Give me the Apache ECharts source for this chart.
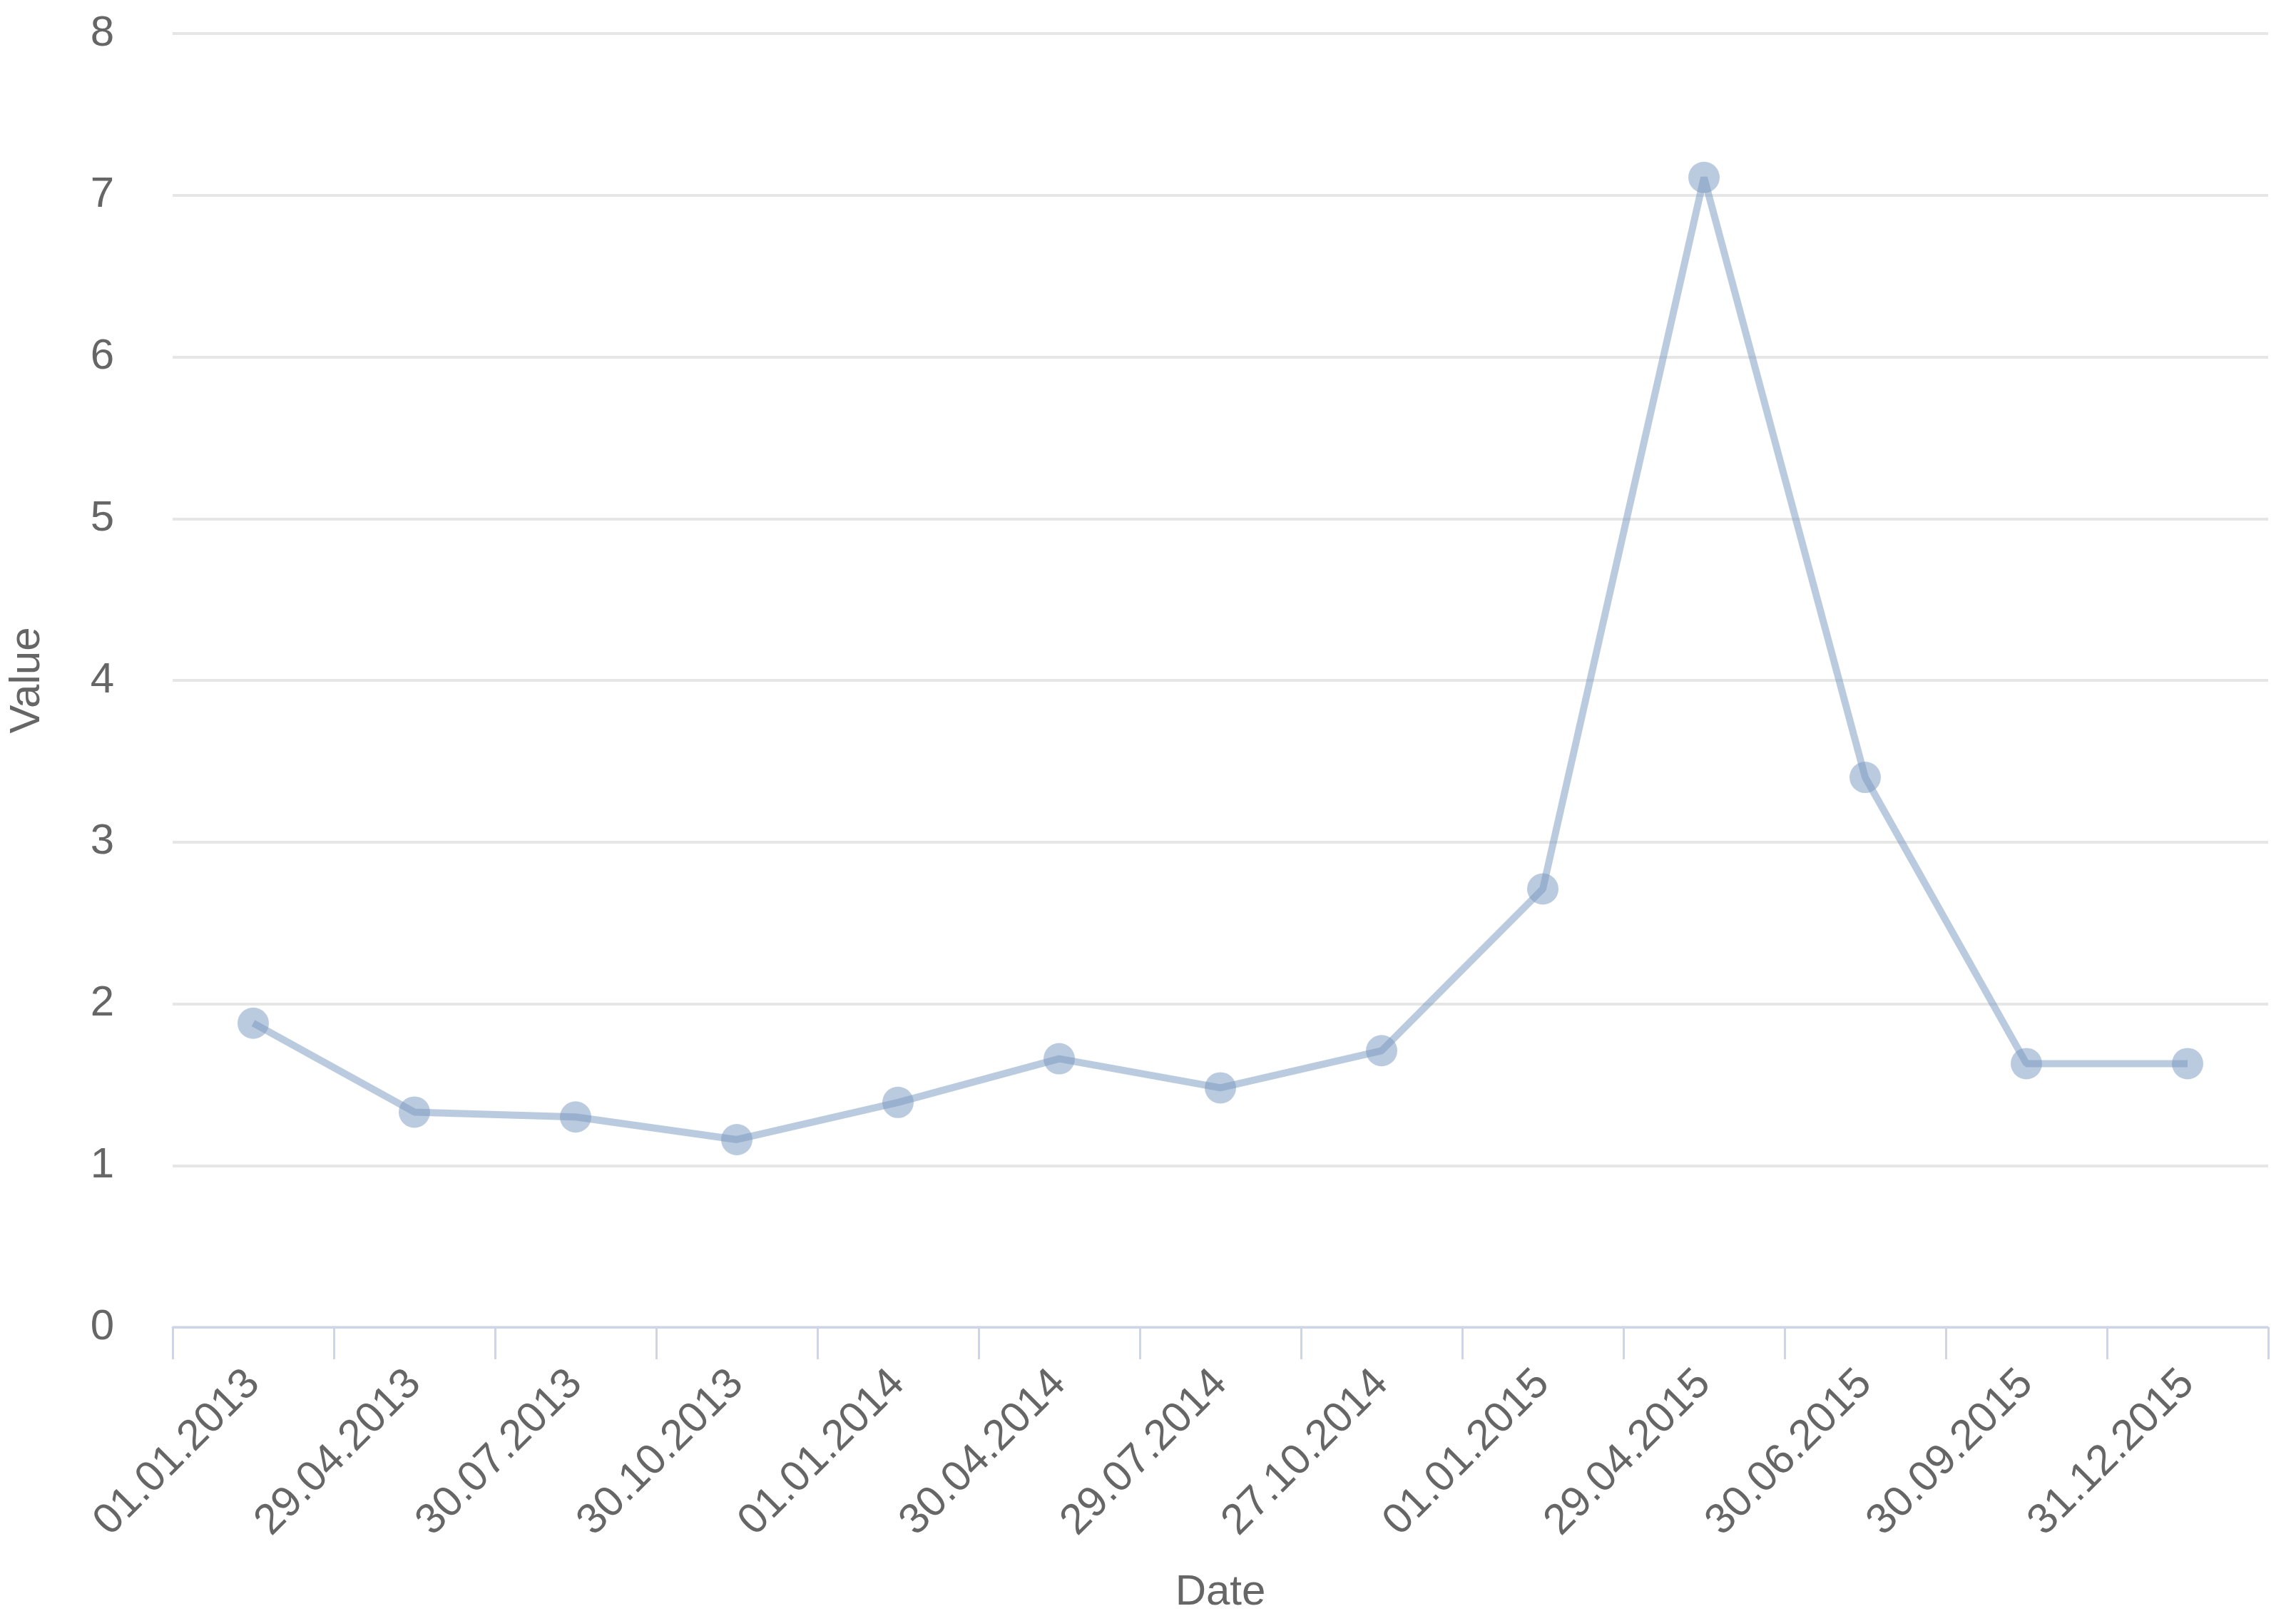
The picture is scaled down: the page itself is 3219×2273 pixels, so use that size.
<!DOCTYPE html>
<html>
<head>
<meta charset="utf-8">
<script src="https://cdn.jsdelivr.net/npm/echarts@6/dist/echarts.min.js"></script>
<style>
html,body{margin:0;padding:0;background:#fff;}
#chart{width:3219px;height:2273px;}
</style>
</head>
<body>
<div id="chart"></div>
<script>
const categories = ['01.01.2013','29.04.2013','30.07.2013','30.10.2013','01.01.2014','30.04.2014','29.07.2014','27.10.2014','01.01.2015','29.04.2015','30.06.2015','30.09.2015','31.12.2015'];
const values = [1.88, 1.33, 1.30, 1.16, 1.39, 1.66, 1.48, 1.71, 2.71, 7.11, 3.40, 1.63, 1.63];
const yTicks = {min: 0, max: 8, interval: 1};
const xAxisTitle = 'Date';
const yAxisTitle = 'Value';

const FONT = '"Liberation Sans", Arial, sans-serif';
const chart = echarts.init(document.getElementById('chart'), null, {renderer: 'canvas'});
chart.setOption({
  animation: false,
  backgroundColor: '#ffffff',
  grid: {left: 242, right: 39, top: 47, bottom: 412, containLabel: false},
  xAxis: {
    type: 'category',
    data: categories,
    boundaryGap: true,
    name: xAxisTitle,
    nameLocation: 'middle',
    nameGap: 342,
    nameTextStyle: {color: '#666666', fontSize: 60, fontFamily: FONT},
    axisLine: {show: true, lineStyle: {color: '#ccd6eb', width: 3}},
    axisTick: {show: true, interval: 0, length: 45, lineStyle: {color: '#ccd6eb', width: 3}},
    axisLabel: {interval: 0, rotate: 45, margin: 70, color: '#666666', fontSize: 60, fontFamily: FONT},
    splitLine: {show: false}
  },
  yAxis: {
    type: 'value',
    min: yTicks.min,
    max: yTicks.max,
    interval: yTicks.interval,
    name: yAxisTitle,
    nameLocation: 'middle',
    nameGap: 174,
    nameRotate: 90,
    nameTextStyle: {color: '#666666', fontSize: 60, fontFamily: FONT},
    axisLine: {show: false},
    axisTick: {show: false},
    axisLabel: {margin: 82, color: '#666666', fontSize: 60, fontFamily: FONT},
    splitLine: {show: true, lineStyle: {color: '#e6e6e6', width: 4}}
  },
  series: [{
    type: 'line',
    data: values,
    symbol: 'circle',
    symbolSize: 44,
    showAllSymbol: true,
    lineStyle: {color: '#7798BF', width: 10, opacity: 0.5},
    itemStyle: {color: '#7798BF', opacity: 0.5, borderWidth: 0}
  }]
});
</script>
</body>
</html>
